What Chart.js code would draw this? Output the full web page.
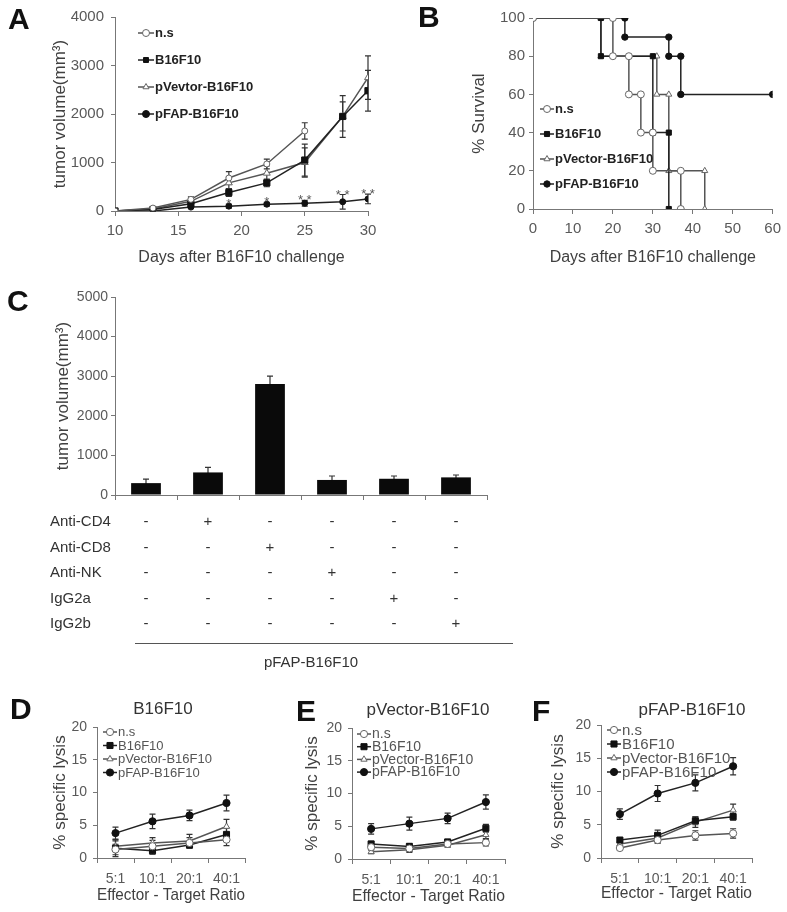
<!DOCTYPE html>
<html>
<head>
<meta charset="utf-8">
<script src="https://cdn.jsdelivr.net/npm/chart.js@4.4.1/dist/chart.umd.min.js"></script>
<style>
  body { margin: 0; background: #fff; width: 787px; height: 912px; position: relative; overflow: hidden;
         font-family: 'Liberation Sans', Arial, sans-serif; }
  canvas { position: absolute; }
  .letter { position: absolute; font-weight: bold; font-size: 30px; line-height: 30px; color: #111; }
  .ptitle { position: absolute; font-size: 17px; line-height: 17px; color: #333; text-align: center; }
</style>
</head>
<body>
<canvas id="chartA" width="390" height="270" style="left:0;top:0"></canvas>
<canvas id="chartB" width="397" height="270" style="left:390px;top:0"></canvas>
<canvas id="chartC" width="550" height="400" style="left:0;top:280px"></canvas>
<canvas id="chartD" width="265" height="272" style="left:0;top:640px"></canvas>
<canvas id="chartE" width="260" height="272" style="left:265px;top:640px"></canvas>
<canvas id="chartF" width="262" height="272" style="left:525px;top:640px"></canvas>

<div class="letter" style="left:8px;top:4px">A</div>
<div class="letter" style="left:418px;top:2px">B</div>
<div class="letter" style="left:7px;top:286px">C</div>
<div class="letter" style="left:10px;top:694px">D</div>
<div class="letter" style="left:296px;top:696px">E</div>
<div class="letter" style="left:532px;top:696px">F</div>
<div class="ptitle" style="left:103px;width:120px;top:700px">B16F10</div>
<div class="ptitle" style="left:348px;width:160px;top:701px">pVector-B16F10</div>
<div class="ptitle" style="left:622px;width:140px;top:701px">pFAP-B16F10</div>

<script>
// ---- A: tumor growth ----
const daysA = [10, 13, 16, 19, 22, 25, 28, 30];
const volNs = [0, 60, 240, 680, 970, 1650, null, null];
const volB16 = [0, 30, 150, 380, 580, 1050, 1950, 2480];
const volPVec = [0, 40, 200, 580, 780, 1000, 1950, 2750];
const volPFAP = [0, 0, 80, 100, 140, 160, 190, 250];
const errNs = [0, 20, 50, 130, 100, 170, null, null];
const errB16 = [0, 20, 40, 80, 80, 330, 430, 420];
const errPVec = [0, 20, 60, 120, 150, 300, 300, 450];
const errPFAP = [0, 10, 20, 40, 40, 60, 150, 100];
const starsA = ['', '', '', '*', '*', '* *', '* *', '* *'];
const legendA = ['n.s', 'B16F10', 'pVevtor-B16F10', 'pFAP-B16F10'];

// ---- B: survival ----
const survNsDays = [0, 20, 20, 24, 24, 27, 27, 30, 30, 37, 37];
const survNsPct = [100, 100, 80, 80, 60, 60, 40, 40, 20, 20, 0];
const survB16Days = [0, 17, 17, 30, 30, 34, 34];
const survB16Pct = [100, 100, 80, 80, 40, 40, 0];
const survPVecDays = [0, 17, 17, 31, 31, 34, 34, 43, 43];
const survPVecPct = [100, 100, 80, 80, 60, 60, 20, 20, 0];
const survPFAPDays = [0, 23, 23, 34, 34, 37, 37, 60];
const survPFAPPct = [100, 100, 90, 90, 80, 80, 60, 60];
const legendB = ['n.s', 'B16F10', 'pVector-B16F10', 'pFAP-B16F10'];

// ---- C: depletion ----
const cGroups = ['None', 'Anti-CD4', 'Anti-CD8', 'Anti-NK', 'IgG2a', 'IgG2b'];
const cVolume = [300, 570, 2800, 380, 410, 445];
const cVolumeErr = [100, 130, 200, 100, 70, 60];
const cRows = ['Anti-CD4', 'Anti-CD8', 'Anti-NK', 'IgG2a', 'IgG2b'];
const cGroupLabel = 'pFAP-B16F10';

// ---- D/E/F: CTL lysis ----
const ratios = ['5:1', '10:1', '20:1', '40:1'];
const legendLysis = ['n.s', 'B16F10', 'pVector-B16F10', 'pFAP-B16F10'];
const lysisDNs = [1.3, 1.8, 2.3, 2.8], errDNs = [0.8, 0.9, 0.8, 0.9];
const lysisDB16 = [1.5, 1.1, 2.0, 3.6], errDB16 = [1.3, 0.5, 0.5, 1.0];
const lysisDPVec = [1.8, 2.3, 2.6, 4.8], errDPVec = [0.8, 0.8, 1.0, 1.1];
const lysisDPFAP = [3.8, 5.6, 6.5, 8.4], errDPFAP = [0.9, 1.1, 0.8, 1.2];
const lysisENs = [1.8, 1.6, 2.3, 2.5], errENs = [0.4, 0.4, 0.3, 0.5];
const lysisEB16 = [2.3, 1.9, 2.6, 4.7], errEB16 = [0.4, 0.5, 0.4, 0.6];
const lysisEPVec = [1.1, 1.4, 2.1, 3.7], errEPVec = [0.3, 0.4, 0.3, 0.6];
const lysisEPFAP = [4.6, 5.4, 6.2, 8.7], errEPFAP = [0.8, 1.0, 0.8, 1.1];
const lysisFNs = [1.5, 2.7, 3.4, 3.7], errFNs = [0.3, 0.5, 0.7, 0.7];
const lysisFB16 = [2.7, 3.4, 5.6, 6.2], errFB16 = [0.3, 0.8, 0.6, 0.5];
const lysisFPVec = [2.1, 3.0, 5.4, 7.2], errFPVec = [0.4, 0.6, 0.8, 0.9];
const lysisFPFAP = [6.6, 9.7, 11.3, 13.8], errFPFAP = [0.8, 1.2, 1.2, 1.3];

Chart.defaults.font.family = "'Liberation Sans', Arial, sans-serif";
Chart.defaults.color = '#595959';
Chart.defaults.animation = false;
Chart.defaults.plugins.legend.display = false;
Chart.defaults.plugins.tooltip.enabled = false;

const AXIS = '#777';
const markerStyles = [
  { pointStyle: 'circle', fill: '#ffffff', stroke: '#666', line: '#555' },
  { pointStyle: 'rect', fill: '#111', stroke: '#111', line: '#222' },
  { pointStyle: 'triangle', fill: '#ffffff', stroke: '#666', line: '#555' },
  { pointStyle: 'circle', fill: '#111', stroke: '#111', line: '#222' }
];

const xy = (xs, ys) => xs.map((x, i) => ({ x: x, y: ys[i] }));

function series(label, data, errors, k, radius) {
  const m = markerStyles[k];
  return {
    label: label, data: data, errors: errors,
    pointStyle: m.pointStyle, pointRadius: radius,
    pointBackgroundColor: m.fill, pointBorderColor: m.stroke, pointBorderWidth: 1,
    borderColor: m.line, borderWidth: 1.5, fill: false, tension: 0
  };
}

function drawMarker(ctx, style, r, x, y, fill, stroke) {
  ctx.beginPath();
  if (style === 'rect') {
    const s = r * Math.SQRT1_2;
    ctx.rect(x - s, y - s, 2 * s, 2 * s);
  } else if (style === 'triangle') {
    for (let k = 0; k < 3; k++) {
      const a = k * 2 * Math.PI / 3;
      if (k === 0) ctx.moveTo(x + Math.sin(a) * r, y - Math.cos(a) * r);
      else ctx.lineTo(x + Math.sin(a) * r, y - Math.cos(a) * r);
    }
    ctx.closePath();
  } else {
    ctx.arc(x, y, r, 0, Math.PI * 2);
  }
  ctx.fillStyle = fill;
  ctx.fill();
  ctx.strokeStyle = stroke;
  ctx.lineWidth = 1;
  ctx.stroke();
}

const valueOf = raw => (raw !== null && typeof raw === 'object') ? raw.y : raw;

// error bars drawn under the markers
const errorBars = {
  id: 'errorBars',
  beforeDatasetsDraw(chart) {
    const ctx = chart.ctx;
    ctx.save();
    ctx.strokeStyle = '#333';
    ctx.lineWidth = 1.2;
    chart.data.datasets.forEach((ds, i) => {
      if (!ds.errors) return;
      const meta = chart.getDatasetMeta(i);
      const ys = chart.scales[meta.yAxisID];
      meta.data.forEach((el, j) => {
        const v = valueOf(ds.data[j]);
        const e = ds.errors[j];
        if (v == null || e == null || !e) return;
        const top = ys.getPixelForValue(v + e), bot = ys.getPixelForValue(v - e);
        ctx.beginPath();
        ctx.moveTo(el.x, top); ctx.lineTo(el.x, bot);
        ctx.moveTo(el.x - 3, top); ctx.lineTo(el.x + 3, top);
        ctx.moveTo(el.x - 3, bot); ctx.lineTo(el.x + 3, bot);
        ctx.stroke();
      });
    });
    ctx.restore();
  }
};

// significance stars above points
const starMarks = {
  id: 'starMarks',
  afterDatasetsDraw(chart) {
    const ctx = chart.ctx;
    ctx.save();
    ctx.font = '13px "Liberation Sans", Arial, sans-serif';
    ctx.fillStyle = '#555';
    ctx.textAlign = 'center';
    ctx.textBaseline = 'alphabetic';
    chart.data.datasets.forEach((ds, i) => {
      if (!ds.stars) return;
      const meta = chart.getDatasetMeta(i);
      const ys = chart.scales[meta.yAxisID];
      meta.data.forEach((el, j) => {
        if (!ds.stars[j]) return;
        const v = valueOf(ds.data[j]) + (ds.errors ? ds.errors[j] : 0);
        ctx.fillText(ds.stars[j], el.x, ys.getPixelForValue(v) + 4);
      });
    });
    ctx.restore();
  }
};

// legend as line-through-marker, placed inside the plot
const lineLegend = {
  id: 'lineLegend',
  afterDraw(chart, args, opts) {
    if (!opts || opts.x == null) return;
    const ctx = chart.ctx, a = chart.chartArea;
    ctx.save();
    chart.data.datasets.forEach((ds, i) => {
      const y = a.top + opts.y + i * opts.gap;
      const x0 = a.left + opts.x;
      ctx.strokeStyle = ds.borderColor;
      ctx.lineWidth = 1.5;
      ctx.beginPath(); ctx.moveTo(x0, y); ctx.lineTo(x0 + opts.len, y); ctx.stroke();
      drawMarker(ctx, ds.pointStyle, opts.radius || ds.pointRadius, x0 + opts.len / 2, y,
        ds.pointBackgroundColor, ds.pointBorderColor);
      ctx.font = opts.font;
      ctx.fillStyle = opts.color;
      ctx.textAlign = 'left';
      ctx.textBaseline = 'middle';
      ctx.fillText(ds.label, x0 + opts.len + 1, y + 0.5);
    });
    ctx.restore();
  }
};

// treatment table under panel C
const treatmentTable = {
  id: 'treatmentTable',
  afterDraw(chart) {
    const ctx = chart.ctx, xs = chart.scales.x, a = chart.chartArea;
    ctx.save();
    ctx.font = '15px "Liberation Sans", Arial, sans-serif';
    ctx.fillStyle = '#333';
    ctx.textBaseline = 'middle';
    cRows.forEach((row, r) => {
      const y = a.bottom + 27 + r * 25.5;
      ctx.textAlign = 'left';
      ctx.fillText(row, 50, y);
      ctx.textAlign = 'center';
      cGroups.forEach((g, c) => ctx.fillText(g === row ? '+' : '-', xs.getPixelForValue(c), y));
    });
    ctx.strokeStyle = '#555';
    ctx.lineWidth = 1;
    ctx.beginPath();
    ctx.moveTo(135, a.bottom + 148.5);
    ctx.lineTo(513, a.bottom + 148.5);
    ctx.stroke();
    ctx.textAlign = 'center';
    ctx.fillText(cGroupLabel, 311, a.bottom + 168);
    ctx.restore();
  }
};

const plainNumber = v => String(v);

function yAxis(o) {
  return {
    min: o.min, max: o.max,
    border: { color: AXIS },
    grid: { drawOnChartArea: false, tickLength: 4, color: AXIS },
    ticks: { stepSize: o.step, font: { size: o.tick }, padding: o.pad, color: '#595959', callback: plainNumber },
    title: { display: true, text: o.title, font: { size: 17 }, color: '#404040', padding: { top: o.titlePad, bottom: 0 } },
    afterFit: s => { s.width = o.width; }
  };
}

function xAxis(o) {
  const ax = {
    type: o.type,
    border: { color: AXIS },
    grid: { drawOnChartArea: false, tickLength: 5, color: AXIS, offset: o.type === 'category' },
    ticks: { font: { size: o.tick }, padding: o.pad, color: '#595959', maxRotation: 0, autoSkip: false },
    title: { display: !!o.title, text: o.title, font: { size: o.titleSize || 16 }, color: '#404040', padding: { top: 0, bottom: o.titlePad } },
    afterFit: s => { s.height = o.height; }
  };
  if (o.type === 'linear') {
    ax.min = o.min; ax.max = o.max;
    ax.ticks.stepSize = o.step;
    ax.ticks.callback = plainNumber;
  }
  if (o.type === 'category') ax.offset = true;
  if (o.hideLabels) ax.ticks.display = false;
  return ax;
}

// A
new Chart(document.getElementById('chartA'), {
  type: 'line',
  data: {
    datasets: [
      series(legendA[0], xy(daysA, volNs), errNs, 0, 3),
      series(legendA[1], xy(daysA, volB16), errB16, 1, 4.4),
      series(legendA[2], xy(daysA, volPVec), errPVec, 2, 4),
      Object.assign(series(legendA[3], xy(daysA, volPFAP), errPFAP, 3, 3), { stars: starsA })
    ]
  },
  options: {
    responsive: false, devicePixelRatio: 1,
    layout: { padding: { left: 0, top: 17, right: 22, bottom: 0 } },
    scales: {
      x: xAxis({ type: 'linear', min: 10, max: 30, step: 5, tick: 15, pad: 6, title: 'Days after B16F10 challenge', titlePad: 3, height: 59 }),
      y: yAxis({ min: 0, max: 4000, step: 1000, tick: 15, pad: 7, title: 'tumor volume(mm\u00B3)', titlePad: 50, width: 115 })
    },
    plugins: { lineLegend: { x: 23, y: 16, gap: 27, len: 16, radius: 3.5, font: 'bold 13px "Liberation Sans", Arial, sans-serif', color: '#222' } }
  },
  plugins: [errorBars, starMarks, lineLegend]
});

// B
new Chart(document.getElementById('chartB'), {
  type: 'line',
  data: {
    datasets: [
      series(legendB[0], xy(survNsDays, survNsPct), null, 0, 3.5),
      series(legendB[1], xy(survB16Days, survB16Pct), null, 1, 3.6),
      series(legendB[2], xy(survPVecDays, survPVecPct), null, 2, 3.5),
      series(legendB[3], xy(survPFAPDays, survPFAPPct), null, 3, 3.2)
    ]
  },
  options: {
    responsive: false, devicePixelRatio: 1,
    layout: { padding: { left: 0, top: 18, right: 14, bottom: 0 } },
    scales: {
      x: xAxis({ type: 'linear', min: 0, max: 60, step: 10, tick: 15, pad: 6, title: 'Days after B16F10 challenge', titlePad: 3, height: 61 }),
      y: yAxis({ min: 0, max: 100, step: 20, tick: 15, pad: 4, title: '% Survival', titlePad: 79, width: 143 })
    },
    plugins: { lineLegend: { x: 7, y: 91, gap: 25, len: 14, font: 'bold 13px "Liberation Sans", Arial, sans-serif', color: '#222' } }
  },
  plugins: [lineLegend]
});

// C
new Chart(document.getElementById('chartC'), {
  type: 'bar',
  data: {
    labels: cGroups,
    datasets: [{ data: cVolume, errors: cVolumeErr, backgroundColor: '#0a0a0a', barPercentage: 0.48, categoryPercentage: 1 }]
  },
  options: {
    responsive: false, devicePixelRatio: 1,
    layout: { padding: { left: 0, top: 17, right: 63, bottom: 0 } },
    scales: {
      x: xAxis({ type: 'category', tick: 14, pad: 4, hideLabels: true, height: 185 }),
      y: yAxis({ min: 0, max: 5000, step: 1000, tick: 14, pad: 3, title: 'tumor volume(mm\u00B3)', titlePad: 53, width: 115 })
    }
  },
  plugins: [errorBars, treatmentTable]
});

// D, E, F
function lysisChart(id, sets, geom) {
  return new Chart(document.getElementById(id), {
    type: 'line',
    data: {
      labels: ratios,
      datasets: sets.map((s, k) => series(legendLysis[k], s[0], s[1], k, k === 1 ? 4.3 : 3.6))
    },
    options: {
      responsive: false, devicePixelRatio: 1,
      layout: { padding: { left: 0, top: geom.top, right: geom.right, bottom: 0 } },
      scales: {
        x: xAxis({ type: 'category', tick: 14, pad: 8, title: 'Effector - Target Ratio', titleSize: 17, titlePad: geom.xTitlePad, height: geom.xH }),
        y: yAxis({ min: 0, max: 20, step: 5, tick: 14, pad: 6, title: '% specific lysis', titlePad: geom.yTitlePad, width: geom.yW })
      },
      plugins: { lineLegend: { x: geom.lx, y: geom.ly, gap: geom.gap, len: 14, font: geom.font, color: '#555' } }
    },
    plugins: [errorBars, lineLegend]
  });
}

lysisChart('chartD',
  [[lysisDNs, errDNs], [lysisDB16, errDB16], [lysisDPVec, errDPVec], [lysisDPFAP, errDPFAP]],
  { top: 87, right: 20, xH: 54, yW: 97, xTitlePad: 6, yTitlePad: 50, lx: 6, ly: 5, gap: 13.5, font: '13px "Liberation Sans", Arial, sans-serif' });
lysisChart('chartE',
  [[lysisENs, errENs], [lysisEB16, errEB16], [lysisEPVec, errEPVec], [lysisEPFAP, errEPFAP]],
  { top: 88, right: 20, xH: 53, yW: 87, xTitlePad: 5, yTitlePad: 37, lx: 5, ly: 6, gap: 12.7, font: '14px "Liberation Sans", Arial, sans-serif' });
lysisChart('chartF',
  [[lysisFNs, errFNs], [lysisFB16, errFB16], [lysisFPVec, errFPVec], [lysisFPFAP, errFPFAP]],
  { top: 85, right: 35, xH: 54, yW: 76, xTitlePad: 8, yTitlePad: 23, lx: 6, ly: 5, gap: 14, font: '15px "Liberation Sans", Arial, sans-serif' });
</script>
</body>
</html>
